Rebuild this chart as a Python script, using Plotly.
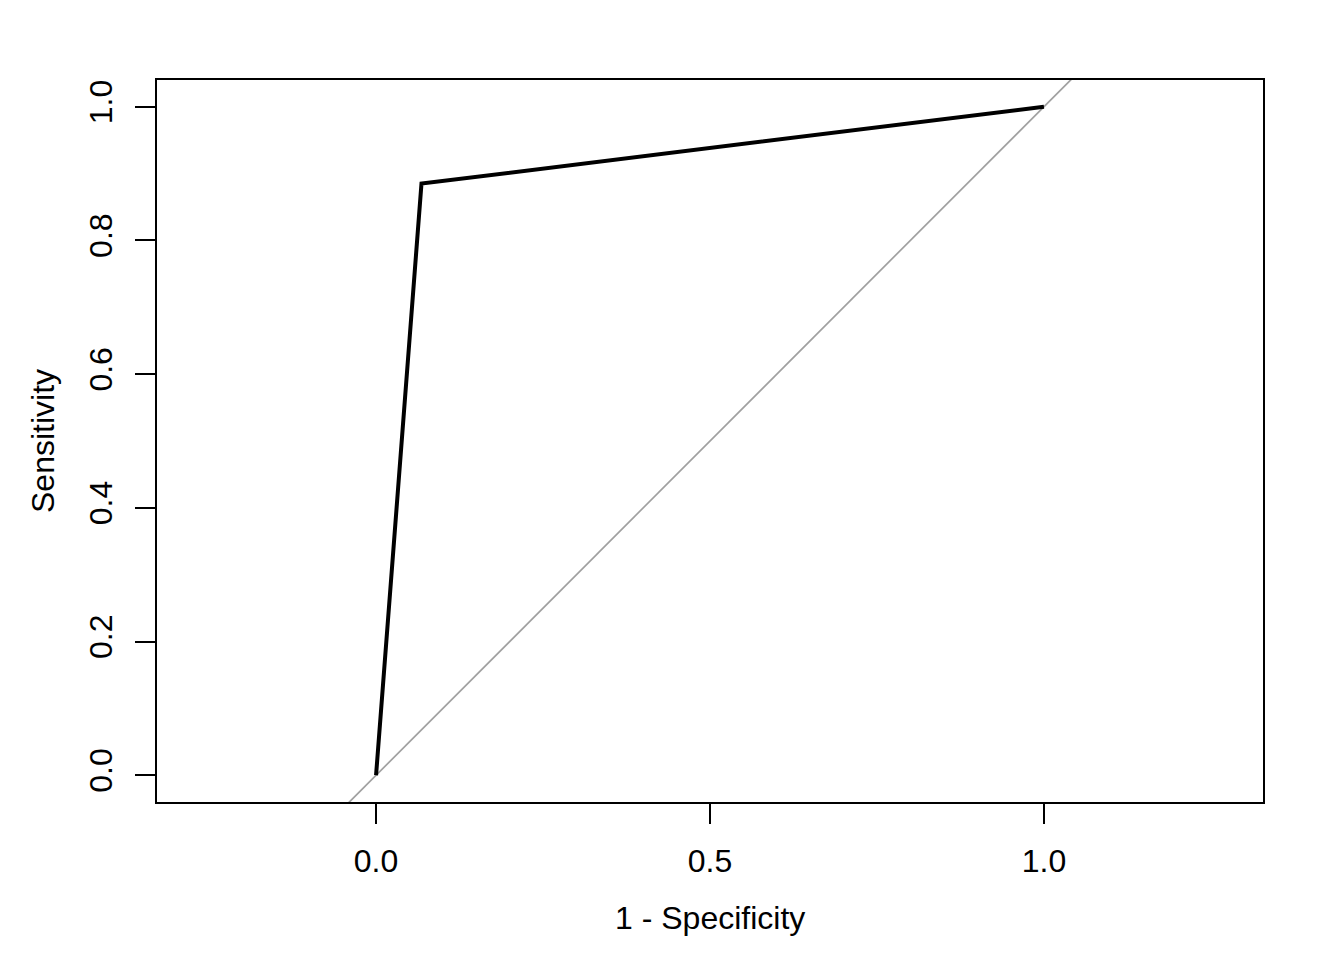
import plotly.graph_objects as go

# ROC curve data (1 - specificity, sensitivity)
fpr = [0.0, 0.068, 1.0]
tpr = [0.0, 0.885, 1.0]

# chance diagonal
diag_x = [-0.5, 1.5]
diag_y = [-0.5, 1.5]

x_ticks = [0.0, 0.5, 1.0]
x_ticklabels = ["0.0", "0.5", "1.0"]
y_ticks = [0.0, 0.2, 0.4, 0.6, 0.8, 1.0]
y_ticklabels = ["0.0", "0.2", "0.4", "0.6", "0.8", "1.0"]

FONT = "Liberation Sans, Arial, sans-serif"

fig = go.Figure()
fig.add_trace(go.Scatter(x=diag_x, y=diag_y, mode="lines",
                         line=dict(color="#a0a0a0", width=1.7),
                         showlegend=False, hoverinfo="skip"))
fig.add_trace(go.Scatter(x=fpr, y=tpr, mode="lines",
                         line=dict(color="black", width=4),
                         showlegend=False))

fig.update_layout(
    width=1336, height=952,
    margin=dict(l=149, r=81, t=72, b=158),
    paper_bgcolor="white", plot_bgcolor="white",
    font=dict(family=FONT, size=32, color="black"),
    xaxis=dict(range=[-0.328, 1.328], tickvals=x_ticks, ticktext=x_ticklabels,
               showgrid=False, zeroline=False, showline=True, mirror=True,
               linecolor="black", linewidth=2, ticks="outside", ticklen=20,
               tickwidth=2, tickcolor="black", ticklabelstandoff=10,
               tickfont=dict(family=FONT, size=32, color="black")),
    yaxis=dict(range=[-0.04, 1.04], tickvals=y_ticks, ticktext=y_ticklabels,
               showgrid=False, zeroline=False, showline=True, mirror=True,
               linecolor="black", linewidth=2, ticks="outside", ticklen=20,
               tickwidth=2, tickcolor="black", tickangle=-90, ticklabelstandoff=10,
               tickfont=dict(family=FONT, size=32, color="black")),
    annotations=[
        dict(text="1 - Specificity", xref="paper", yref="paper",
             x=0.5, y=0, yshift=-116, xanchor="center", yanchor="middle",
             showarrow=False, font=dict(family=FONT, size=32, color="black")),
        dict(text="Sensitivity", xref="paper", yref="paper",
             x=0, y=0.5, xshift=-114, xanchor="center", yanchor="middle",
             textangle=-90, showarrow=False,
             font=dict(family=FONT, size=32, color="black")),
    ],
)

fig.write_html("out.html")
